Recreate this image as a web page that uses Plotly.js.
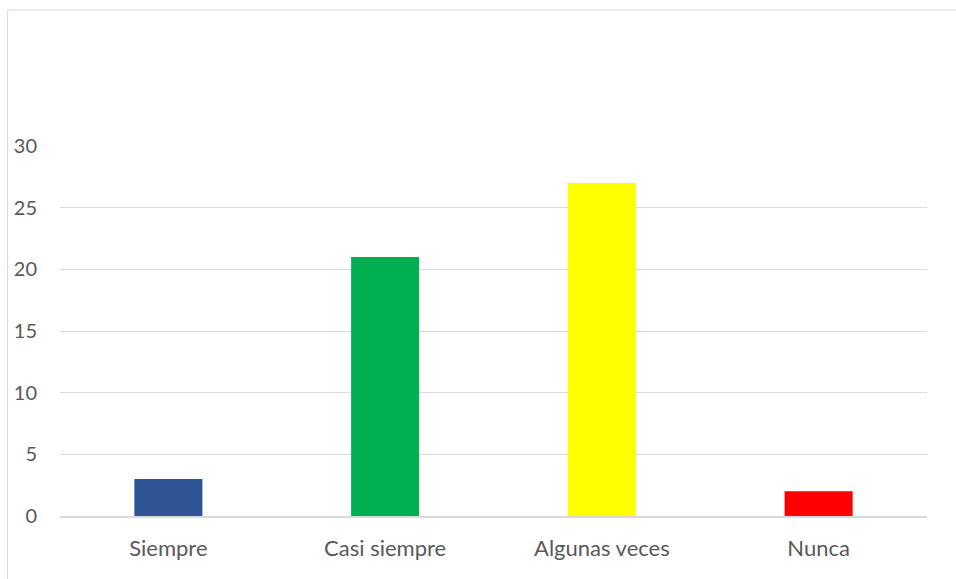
<!DOCTYPE html>
<html><head><meta charset="utf-8">
<script src="https://cdn.plot.ly/plotly-3.0.1.min.js"></script>
<style>html,body{margin:0;padding:0;background:#fff}#chart{width:956px;height:579px}</style>
</head><body><div id="chart"></div>
<script>
const categories = ["Siempre", "Casi siempre", "Algunas veces", "Nunca"];
const values = [3, 21, 27, 2];
const barColors = ["#2F5597", "#00B050", "#FFFF00", "#FF0000"];
const yTicks = [0, 5, 10, 15, 20, 25, 30];

Plotly.newPlot("chart", [{
  type: "bar", x: categories, y: values,
  marker: {color: barColors}, width: 0.314, hoverinfo: "x+y"
}], {
  width: 956, height: 579,
  margin: {l: 60, r: 29, t: 146, b: 63},
  paper_bgcolor: "#fff", plot_bgcolor: "#fff",
  font: {family: "Lato, 'Open Sans', sans-serif", size: 20, color: "#595959"},
  showlegend: false,
  xaxis: {showgrid: false, showline: true, linecolor: "#D9D9D9", linewidth: 1.5,
          ticks: "", ticklabelstandoff: 12, zeroline: false,
          tickfont: {size: 22}},
  yaxis: {range: [0, 30], tickvals: yTicks, showgrid: true, gridcolor: "#D9D9D9",
          gridwidth: 1, zeroline: false, showline: false, ticks: "", ticklabelstandoff: 22,
          tickfont: {size: 20}},
  shapes: [{type: "rect", xref: "paper", yref: "paper",
            x0: -0.0605, x1: 1.1, y0: -0.3, y1: 1.3676,
            line: {color: "#D9D9D9", width: 1}, layer: "below"}]
}, {displayModeBar: false, staticPlot: true});
</script></body></html>
